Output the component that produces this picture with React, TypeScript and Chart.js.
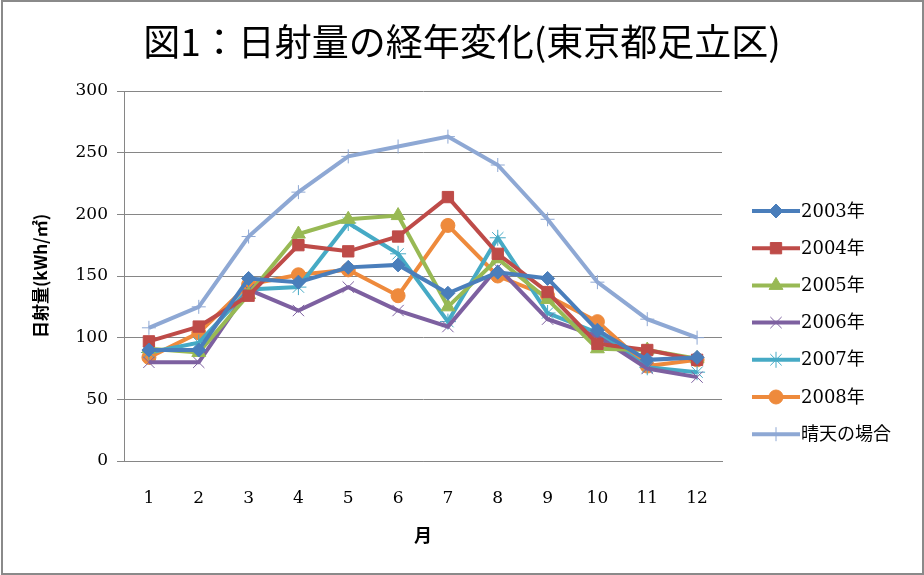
import React, { useEffect, useRef } from "react";
import { Chart, registerables } from "chart.js";
import { drawPoint } from "chart.js/helpers";

Chart.register(...registerables);

const months = ["1", "2", "3", "4", "5", "6", "7", "8", "9", "10", "11", "12"];
const y2003 = [90, 90, 148, 145, 157, 159, 136, 153, 148, 106, 82, 84];
const y2004 = [97, 109, 134, 175, 170, 182, 214, 168, 137, 95, 90, 82];
const y2005 = [91, 88, 135, 184, 196, 199, 125, 164, 131, 91, 90, 83];
const y2006 = [80, 80, 139, 122, 141, 122, 109, 157, 115, 101, 75, 68];
const y2007 = [88, 96, 139, 141, 193, 168, 113, 181, 120, 104, 76, 72];
const y2008 = [84, 104, 143, 151, 155, 134, 191, 150, 134, 113, 77, 82];
const yClear = [108, 125, 182, 218, 247, 255, 263, 240, 196, 145, 115, 100];

const seriesNames = ["2003年", "2004年", "2005年", "2006年", "2007年", "2008年", "晴天の場合"];
const yTicks = [0, 50, 100, 150, 200, 250, 300];
const chartTitle = "図1：日射量の経年変化(東京都足立区)";

const SERIF = "'DejaVu Serif', 'Liberation Serif', 'Noto Sans CJK JP', serif";
const JP = "'Noto Sans CJK JP', sans-serif";

export default function App() {
  const ref = useRef<HTMLCanvasElement>(null);
  useEffect(() => {
    const cv = ref.current!;
    const mk = (label: string, data: number[], color: string, style: any, radius: number, bw = 1) => ({
      label,
      data,
      borderColor: color,
      backgroundColor: color,
      pointBackgroundColor: color,
      pointBorderColor: color,
      pointStyle: style,
      pointRadius: radius,
      pointBorderWidth: bw,
      borderWidth: 4,
      tension: 0,
    });
    const datasets = [
      mk(seriesNames[0], y2003, "#4A7EBB", "rectRot", 7),
      mk(seriesNames[1], y2004, "#BE4B48", "rect", 8),
      mk(seriesNames[2], y2005, "#98B954", "triangle", 8),
      mk(seriesNames[3], y2006, "#7D60A0", "crossRot", 8, 1),
      mk(seriesNames[4], y2007, "#46AAC5", "star", 8, 1),
      mk(seriesNames[5], y2008, "#EE8A3C", "circle", 7),
      mk(seriesNames[6], yClear, "#8EA8D4", "cross", 7, 1),
    ];

    const framePlugin = {
      id: "frame",
      beforeDraw(chart: any) {
        const c = chart.ctx;
        c.save();
        c.fillStyle = "#ffffff";
        c.fillRect(0, 0, chart.width, chart.height);
        c.restore();
      },
      afterDraw(chart: any) {
        const c = chart.ctx;
        c.save();
        c.strokeStyle = "#8a8a8a";
        c.lineWidth = 2;
        c.strokeRect(2, 1, chart.width - 3, chart.height - 2);
        // title centred over full width
        c.fillStyle = "#000";
        c.font = `37px ${JP}`;
        c.textAlign = "center";
        c.textBaseline = "middle";
        c.fillText(chartTitle, 462, 42);
        // legend
        const x0 = 752, x1 = 800;
        chart.data.datasets.forEach((ds: any, i: number) => {
          const y = 211 + i * 37.2;
          c.strokeStyle = ds.borderColor;
          c.lineWidth = 4;
          c.beginPath();
          c.moveTo(x0, y);
          c.lineTo(x1, y);
          c.stroke();
          c.fillStyle = ds.backgroundColor;
          c.strokeStyle = ds.borderColor;
          c.lineWidth = ds.pointBorderWidth;
          drawPoint(c, { pointStyle: ds.pointStyle, rotation: 0, radius: ds.pointRadius, borderWidth: ds.pointBorderWidth }, (x0 + x1) / 2, y);
          c.fillStyle = "#000";
          c.font = `18px ${SERIF}`;
          c.textBaseline = "middle";
          c.textAlign = "left";
          c.fillText(ds.label, x1 + 1, y + 1);
        });
        c.restore();
      },
    };

    const chart = new Chart(cv, {
      type: "line",
      data: { labels: months, datasets },
      plugins: [framePlugin],
      options: {
        animation: false,
        responsive: false,
        maintainAspectRatio: false,
        layout: { padding: { left: 0, right: 202, top: 0, bottom: 0 } },
        plugins: {
          legend: { display: false },
          tooltip: { enabled: false },
          title: {
            display: true,
            text: chartTitle,
            color: "rgba(0,0,0,0)",
            font: { family: JP, size: 36, weight: "normal", lineHeight: 1.2 },
            padding: { top: 20, bottom: 27.8 },
          },
        },
        scales: {
          x: {
            offset: true,
            grid: { display: false, drawTicks: false },
            border: { display: true, color: "#868686", width: 1 },
            ticks: { color: "#000", font: { family: SERIF, size: 17 }, padding: 27, maxRotation: 0 },
            title: {
              display: true,
              text: "月",
              color: "#000",
              font: { family: JP, size: 18, weight: "bold", lineHeight: 1.2 },
              padding: { top: 0, bottom: 29 },
            },
            afterFit: (s: any) => { s.height = 114; },
          },
          y: {
            min: 0,
            max: 300,
            afterBuildTicks: (s: any) => { s.ticks = yTicks.map((v) => ({ value: v })); },
            grid: { color: "#868686", lineWidth: 1, tickLength: 7, drawTicks: true },
            border: { display: true, color: "#868686", width: 1 },
            ticks: { color: "#000", font: { family: SERIF, size: 17 }, padding: 9 },
            title: {
              display: true,
              text: "日射量(kWh/㎡)",
              color: "#000",
              font: { family: JP, size: 17, weight: "bold", lineHeight: 1.2 },
              padding: { top: 30, bottom: 0 },
            },
            afterFit: (s: any) => { s.width = 124; },
          },
        },
      },
    });
    return () => chart.destroy();
  }, []);

  return (
    <div style={{ position: "absolute", left: 0, top: 0, width: 924, height: 575 }}>
      <canvas ref={ref} width={924} height={575} style={{ width: 924, height: 575, display: "block" }} />
    </div>
  );
}
